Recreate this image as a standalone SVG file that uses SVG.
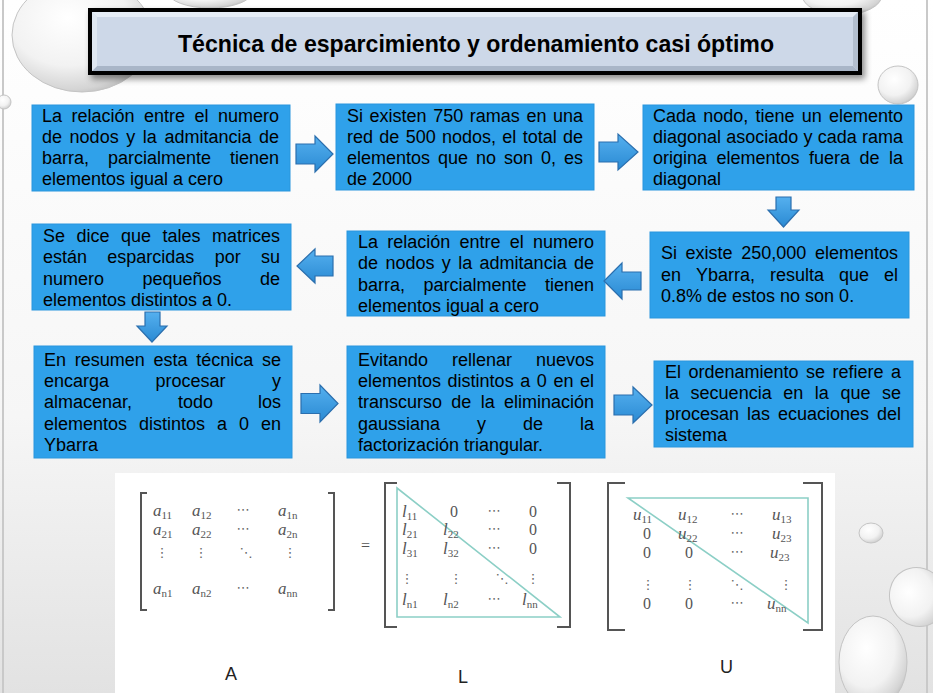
<svg xmlns="http://www.w3.org/2000/svg" width="933" height="693" viewBox="0 0 933 693">
<defs>
<linearGradient id="bg" x1="0" y1="0" x2="0" y2="1">
<stop offset="0" stop-color="#ffffff"/>
<stop offset="0.6" stop-color="#f6f6f6"/>
<stop offset="1" stop-color="#e2e2e2"/>
</linearGradient>
<radialGradient id="drop" cx="0.4" cy="0.35" r="0.7">
<stop offset="0" stop-color="#ffffff"/>
<stop offset="0.6" stop-color="#f2f2f2"/>
<stop offset="0.9" stop-color="#d4d4d4"/>
<stop offset="1" stop-color="#bdbdbd"/>
</radialGradient>
<linearGradient id="arr" x1="0" y1="0" x2="0" y2="1">
<stop offset="0" stop-color="#55b0ef"/>
<stop offset="1" stop-color="#2a8ad3"/>
</linearGradient>
<filter id="sh" x="-5%" y="-20%" width="110%" height="150%">
<feDropShadow dx="3" dy="4" stdDeviation="3" flood-color="#000" flood-opacity="0.45"/>
</filter>
</defs>
<style>
.box{fill:#2fa1ea;stroke:#2a96dd;stroke-width:1}
.t{font-family:"Liberation Sans",Arial,sans-serif;font-size:18px;fill:#000}
.ar{fill:url(#arr);stroke:#2b6fae;stroke-width:1.2}
.dr{fill:url(#drop);stroke:#c4c4c4;stroke-width:1}
.m{font-family:"Liberation Serif","Times New Roman",serif;font-style:italic;font-size:17px;fill:#555}
.s{font-style:normal;font-size:11px}
.z{font-family:"Liberation Serif","Times New Roman",serif;font-size:16px;fill:#555}
.d{font-family:"DejaVu Sans",sans-serif;font-size:13px;fill:#666;text-anchor:middle}
.br{fill:none;stroke:#555;stroke-width:2}
.tri{fill:none;stroke:#8ccfc6;stroke-width:1.6}
.lb{font-family:"Liberation Sans",Arial,sans-serif;font-size:18px;fill:#222}
</style>

<rect x="0" y="0" width="933" height="693" fill="url(#bg)"/>
<line x1="3" y1="0" x2="3" y2="693" stroke="#c9c9c9" stroke-width="2"/>
<line x1="927" y1="0" x2="927" y2="693" stroke="#c9c9c9" stroke-width="2"/>

<g id="decor">
<ellipse class="dr" cx="82" cy="35" rx="70" ry="57"/>
<ellipse class="dr" cx="210" cy="-8" rx="42" ry="16"/>
<circle class="dr" cx="4" cy="102" r="7"/>
<ellipse class="dr" cx="842" cy="-5" rx="40" ry="20"/>
<ellipse class="dr" cx="898" cy="85" rx="20" ry="19"/>
<ellipse class="dr" cx="871" cy="533" rx="12" ry="10"/>
<ellipse class="dr" cx="918" cy="597" rx="28" ry="30" transform="rotate(-30 918 597)"/>
<ellipse class="dr" cx="873" cy="662" rx="34" ry="46"/>
</g>

<g id="title">
<rect x="90" y="10" width="770" height="63" fill="#cdd8e8" stroke="#000" stroke-width="4" filter="url(#sh)"/>
<polygon points="92,12 858,12 853,17 97,17" fill="#e6edf6"/>
<polygon points="92,71 858,71 853,66 97,66" fill="#a9b6c8"/>
<polygon points="92,12 97,17 97,66 92,71" fill="#dfe7f1"/>
<polygon points="858,12 853,17 853,66 858,71" fill="#b3bfcf"/>
<text x="476" y="52" text-anchor="middle" font-family="Liberation Sans,Arial,sans-serif" font-weight="bold" font-size="24" fill="#000" textLength="596" lengthAdjust="spacingAndGlyphs">Técnica de esparcimiento y ordenamiento casi óptimo</text>
</g>

<g id="n1">
<rect class="box" x="32" y="105" width="258" height="86"/>
<text class="t" y="122"><tspan x="42">La</tspan><tspan x="71.5">relación</tspan><tspan x="144">entre</tspan><tspan x="194.5">el</tspan><tspan x="218">numero</tspan></text>
<text class="t" y="143"><tspan x="42">de</tspan><tspan x="69.6">nodos</tspan><tspan x="126.2">y</tspan><tspan x="142.8">la</tspan><tspan x="164.4">admitancia</tspan><tspan x="259">de</tspan></text>
<text class="t" y="164"><tspan x="42">barra,</tspan><tspan x="108">parcialmente</tspan><tspan x="230">tienen</tspan></text>
<text class="t" x="42" y="185">elementos igual a cero</text>
</g>

<g id="n2">
<rect class="box" x="336" y="104" width="258" height="86"/>
<text class="t" y="122"><tspan x="347">Si</tspan><tspan x="369.6">existen</tspan><tspan x="433.2">750</tspan><tspan x="469.8">ramas</tspan><tspan x="526.4">en</tspan><tspan x="553">una</tspan></text>
<text class="t" y="143"><tspan x="347">red</tspan><tspan x="379.3">de</tspan><tspan x="405.7">500</tspan><tspan x="442">nodos,</tspan><tspan x="502.3">el</tspan><tspan x="522.7">total</tspan><tspan x="563">de</tspan></text>
<text class="t" y="164"><tspan x="347">elementos</tspan><tspan x="438">que</tspan><tspan x="476">no</tspan><tspan x="504">son</tspan><tspan x="541">0,</tspan><tspan x="564">es</tspan></text>
<text class="t" x="347" y="185">de 2000</text>
</g>

<g id="n3">
<rect class="box" x="643" y="105" width="271" height="85"/>
<text class="t" y="122"><tspan x="653">Cada</tspan><tspan x="703.3">nodo,</tspan><tspan x="755.5">tiene</tspan><tspan x="801.8">un</tspan><tspan x="829">elemento</tspan></text>
<text class="t" y="143"><tspan x="653">diagonal</tspan><tspan x="726.3">asociado</tspan><tspan x="803.5">y</tspan><tspan x="817.8">cada</tspan><tspan x="862">rama</tspan></text>
<text class="t" y="164"><tspan x="653">origina</tspan><tspan x="716.5">elementos</tspan><tspan x="809">fuera</tspan><tspan x="859.5">de</tspan><tspan x="889">la</tspan></text>
<text class="t" x="653" y="185">diagonal</text>
</g>

<g id="n4">
<rect class="box" x="650" y="232" width="259" height="86"/>
<text class="t" y="259"><tspan x="661">Si</tspan><tspan x="685.6">existe</tspan><tspan x="741.3">250,000</tspan><tspan x="815">elementos</tspan></text>
<text class="t" y="281"><tspan x="661">en</tspan><tspan x="696">Ybarra,</tspan><tspan x="770">resulta</tspan><tspan x="839">que</tspan><tspan x="884">el</tspan></text>
<text class="t" x="661" y="302">0.8% de estos no son 0.</text>
</g>

<g id="n5">
<rect class="box" x="347" y="231" width="258" height="85"/>
<text class="t" y="248"><tspan x="358">La</tspan><tspan x="387.3">relación</tspan><tspan x="459.5">entre</tspan><tspan x="509.8">el</tspan><tspan x="533">numero</tspan></text>
<text class="t" y="269"><tspan x="358">de</tspan><tspan x="385.4">nodos</tspan><tspan x="441.8">y</tspan><tspan x="458.2">la</tspan><tspan x="479.6">admitancia</tspan><tspan x="574">de</tspan></text>
<text class="t" y="291"><tspan x="358">barra,</tspan><tspan x="423.5">parcialmente</tspan><tspan x="545">tienen</tspan></text>
<text class="t" x="358" y="312">elementos igual a cero</text>
</g>

<g id="n6">
<rect class="box" x="32" y="224" width="259" height="86"/>
<text class="t" y="242"><tspan x="43">Se</tspan><tspan x="76.5">dice</tspan><tspan x="121">que</tspan><tspan x="162.5">tales</tspan><tspan x="212">matrices</tspan></text>
<text class="t" y="263"><tspan x="43">están</tspan><tspan x="107.3">esparcidas</tspan><tspan x="214.7">por</tspan><tspan x="261">su</tspan></text>
<text class="t" y="285"><tspan x="43">numero</tspan><tspan x="142.5">pequeños</tspan><tspan x="260">de</tspan></text>
<text class="t" x="43" y="306">elementos distintos a 0.</text>
</g>

<g id="n7">
<rect class="box" x="34" y="346" width="258" height="112"/>
<text class="t" y="366"><tspan x="44">En</tspan><tspan x="74.8">resumen</tspan><tspan x="153.5">esta</tspan><tspan x="196.3">técnica</tspan><tspan x="262">se</tspan></text>
<text class="t" y="387"><tspan x="44">encarga</tspan><tspan x="155.5">procesar</tspan><tspan x="272">y</tspan></text>
<text class="t" y="408"><tspan x="44">almacenar,</tspan><tspan x="178">todo</tspan><tspan x="258">los</tspan></text>
<text class="t" y="430"><tspan x="44">elementos</tspan><tspan x="139">distintos</tspan><tspan x="217">a</tspan><tspan x="239">0</tspan><tspan x="261">en</tspan></text>
<text class="t" x="44" y="451">Ybarra</text>
</g>

<g id="n8">
<rect class="box" x="347" y="346" width="258" height="112"/>
<text class="t" y="366"><tspan x="358">Evitando</tspan><tspan x="452">rellenar</tspan><tspan x="536">nuevos</tspan></text>
<text class="t" y="387"><tspan x="358">elementos</tspan><tspan x="447.6">distintos</tspan><tspan x="520.2">a</tspan><tspan x="536.8">0</tspan><tspan x="553.4">en</tspan><tspan x="580">el</tspan></text>
<text class="t" y="408"><tspan x="358">transcurso</tspan><tspan x="451.3">de</tspan><tspan x="480.7">la</tspan><tspan x="504">eliminación</tspan></text>
<text class="t" y="430"><tspan x="358">gaussiana</tspan><tspan x="477">y</tspan><tspan x="523">de</tspan><tspan x="580">la</tspan></text>
<text class="t" x="358" y="451">factorización triangular.</text>
</g>

<g id="n9">
<rect class="box" x="654" y="361" width="259" height="86"/>
<text class="t" y="378"><tspan x="665">El</tspan><tspan x="688.5">ordenamiento</tspan><tspan x="806">se</tspan><tspan x="832.5">refiere</tspan><tspan x="891">a</tspan></text>
<text class="t" y="399"><tspan x="665">la</tspan><tspan x="690.6">secuencia</tspan><tspan x="783.2">en</tspan><tspan x="814.8">la</tspan><tspan x="840.4">que</tspan><tspan x="882">se</tspan></text>
<text class="t" y="420"><tspan x="665">procesan</tspan><tspan x="747">las</tspan><tspan x="778">ecuaciones</tspan><tspan x="877">del</tspan></text>
<text class="t" x="665" y="441">sistema</text>
</g>

<g id="connectors">
<path class="ar" d="M296,144 H315 V136 L333,154 L315,172 V164 H296 Z"/>
<path class="ar" d="M599,142 H618 V134 L638,152 L618,170 V162 H599 Z"/>
<path class="ar" d="M776,197 H791 V210 H799 L783.5,227 L768,210 H776 Z"/>
<path class="ar" d="M641,272 H622 V263 L604,281 L622,299 V290 H641 Z"/>
<path class="ar" d="M333,256 H315 V249 L297,266 L315,283 V276 H333 Z"/>
<path class="ar" d="M145,312 H160 V326 H167 L152,342 L137,326 H145 Z"/>
<path class="ar" d="M301,393.5 H320 V385 L338,403.5 L320,422 V413.5 H301 Z"/>
<path class="ar" d="M614,395 H633 V387 L652,405 L633,423 V415 H614 Z"/>
</g>

<g id="matrices">
<rect x="115" y="473" width="720" height="220" fill="#ffffff"/>
<!-- A -->
<path class="br" d="M147,493 H141 V610 H147"/>
<path class="br" d="M328,493 H334 V610 H328"/>
<text class="m" x="153" y="516">a<tspan class="s" dy="3">11</tspan></text>
<text class="m" x="192" y="516">a<tspan class="s" dy="3">12</tspan></text>
<text class="d" x="243" y="514">⋯</text>
<text class="m" x="278" y="516">a<tspan class="s" dy="3">1n</tspan></text>
<text class="m" x="153" y="535">a<tspan class="s" dy="3">21</tspan></text>
<text class="m" x="192" y="535">a<tspan class="s" dy="3">22</tspan></text>
<text class="d" x="243" y="533">⋯</text>
<text class="m" x="278" y="535">a<tspan class="s" dy="3">2n</tspan></text>
<text class="d" x="162" y="557">⋮</text>
<text class="d" x="201" y="557">⋮</text>
<text class="d" x="246" y="557">⋱</text>
<text class="d" x="290" y="557">⋮</text>
<text class="m" x="153" y="594">a<tspan class="s" dy="3">n1</tspan></text>
<text class="m" x="192" y="594">a<tspan class="s" dy="3">n2</tspan></text>
<text class="d" x="243" y="592">⋯</text>
<text class="m" x="278" y="594">a<tspan class="s" dy="3">nn</tspan></text>
<text class="lb" x="225" y="680">A</text>
<text class="z" x="361" y="551">=</text>
<!-- L -->
<path class="br" d="M397,483 H385 V627 H397"/>
<path class="br" d="M557,483 H570 V627 H557"/>
<polygon class="tri" points="397,488 397,617 560,617"/>
<text class="m" x="402" y="517">l<tspan class="s" dy="3">11</tspan></text>
<text class="z" x="450" y="517">0</text>
<text class="d" x="494" y="515">⋯</text>
<text class="z" x="529" y="517">0</text>
<text class="m" x="402" y="535">l<tspan class="s" dy="3">21</tspan></text>
<text class="m" x="443" y="535">l<tspan class="s" dy="3">22</tspan></text>
<text class="d" x="494" y="533">⋯</text>
<text class="z" x="529" y="535">0</text>
<text class="m" x="402" y="554">l<tspan class="s" dy="3">31</tspan></text>
<text class="m" x="443" y="554">l<tspan class="s" dy="3">32</tspan></text>
<text class="d" x="494" y="552">⋯</text>
<text class="z" x="529" y="554">0</text>
<text class="d" x="407" y="583">⋮</text>
<text class="d" x="456" y="583">⋮</text>
<text class="d" x="502" y="583">⋱</text>
<text class="d" x="533" y="583">⋮</text>
<text class="m" x="402" y="605">l<tspan class="s" dy="3">n1</tspan></text>
<text class="m" x="443" y="605">l<tspan class="s" dy="3">n2</tspan></text>
<text class="d" x="494" y="603">⋯</text>
<text class="m" x="522" y="605">l<tspan class="s" dy="3">nn</tspan></text>
<text class="lb" x="458" y="683">L</text>
<!-- U -->
<path class="br" d="M625,483 H608 V630 H625" stroke="#888"/>
<path class="br" d="M803,483 H822 V630 H803" stroke="#888"/>
<polygon class="tri" points="628,498 808,498 808,623"/>
<text class="m" x="633" y="520">u<tspan class="s" dy="3">11</tspan></text>
<text class="m" x="678" y="520">u<tspan class="s" dy="3">12</tspan></text>
<text class="d" x="737" y="518">⋯</text>
<text class="m" x="772" y="520">u<tspan class="s" dy="3">13</tspan></text>
<text class="z" x="643" y="539">0</text>
<text class="m" x="678" y="539">u<tspan class="s" dy="3">22</tspan></text>
<text class="d" x="737" y="537">⋯</text>
<text class="m" x="772" y="539">u<tspan class="s" dy="3">23</tspan></text>
<text class="z" x="643" y="558">0</text>
<text class="z" x="685" y="558">0</text>
<text class="d" x="737" y="556">⋯</text>
<text class="m" x="770" y="558">u<tspan class="s" dy="3">23</tspan></text>
<text class="d" x="648" y="589">⋮</text>
<text class="d" x="690" y="589">⋮</text>
<text class="d" x="737" y="589">⋱</text>
<text class="d" x="786" y="589">⋮</text>
<text class="z" x="643" y="609">0</text>
<text class="z" x="685" y="609">0</text>
<text class="d" x="737" y="607">⋯</text>
<text class="m" x="767" y="609">u<tspan class="s" dy="3">nn</tspan></text>
<text class="lb" x="720" y="673">U</text>
</g>
</svg>
